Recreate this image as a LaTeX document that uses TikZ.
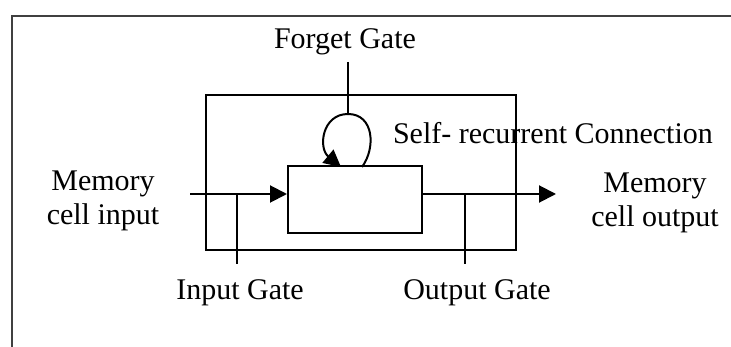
\documentclass[tikz,border=0pt]{standalone}
\usepackage{fontspec}
\setmainfont{Liberation Serif}
\usetikzlibrary{arrows.meta}
\begin{document}
\begin{tikzpicture}[x=1pt,y=-1pt,
  line width=2pt,
  lbl/.style={inner sep=0pt,font=\fontsize{30}{34}\selectfont,align=center},
  boxs/.style={draw,line width=2pt,inner sep=0pt},
  tip/.style={-{Triangle[length=17pt,width=17pt]}},
  frame/.style={draw=black!75,line width=2.5pt}]
\useasboundingbox (0,0) rectangle (731,347);
% frame lines (top and left)
\coordinate (ftl) at (12,16);
\coordinate (ftr) at (731,16);
\coordinate (fbl) at (12,347);
\draw[frame] (ftr) -- (ftl) -- (fbl);
% boxes
\node[boxs,minimum width=310pt,minimum height=155pt] (outer) at (361,173) {};
\node[boxs,minimum width=134pt,minimum height=67pt] (cell) at (355,200) {};
% labels
\node[lbl] (forget) at (345,42) {Forget Gate};
\node[lbl,anchor=west] (self) at (392,133) {Self- recurrent Connection};
\node[lbl] (min) at (103,201) {Memory\\cell input};
\node[lbl] (mout) at (655,203) {Memory\\cell output};
\node[lbl] (ig) at (240,293) {Input Gate};
\node[lbl] (og) at (477,293) {Output Gate};
% coordinates
\coordinate (inS) at (190,194);
\coordinate (outE) at (556,194);
\coordinate (igTop) at (237,194);
\coordinate (igBot) at (237,264);
\coordinate (ogTop) at (465,194);
\coordinate (ogBot) at (465,264);
\coordinate (fgTop) at (348,62);
\coordinate (loopTop) at (348,114);
\coordinate (loopR) at (362,167);
\coordinate (loopL) at (341,167);
% connectors
\draw[tip] (inS) -- (inS -| cell.west);
\draw[tip] (cell.east |- outE) -- (outE);
\draw (igTop) -- (igBot);
\draw (ogTop) -- (ogBot);
\draw (fgTop) -- (loopTop);
\draw (loopR) .. controls (376,148) and (374,114) .. (loopTop);
\draw[tip] (loopTop) .. controls (322,114) and (318,148) .. (loopL);
\end{tikzpicture}
\end{document}
